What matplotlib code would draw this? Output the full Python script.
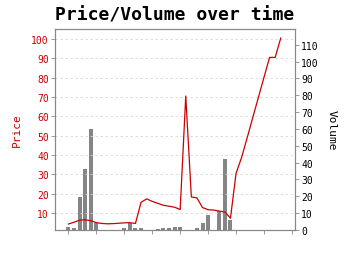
import matplotlib
matplotlib.use("Agg")
import matplotlib.pyplot as plt
import numpy as np

# one entry per trading period (x ticks every 5, no labels)
price = [4.3, 5.2, 6.3, 6.5, 6.0, 5.0, 4.6, 4.4, 4.5, 4.7,
         4.9, 5.0, 4.6, 15.5, 17.3, 16.0, 15.0, 14.0, 13.5, 13.0,
         11.8, 70.5, 18.3, 17.8, 12.8, 11.7, 11.5, 11.0, 10.5, 7.3,
         30.5, 38.8, 49.0, 59.5, 69.8, 80.2, 90.5, 90.5, 100.5]
volume = [2, 1, 19.5, 36, 60, 4, 0, 0, 0, 0,
          1, 4, 1, 1, 0, 0, 0.5, 1, 1, 1.5,
          1.5, 0, 0, 1, 4, 9, 0, 11.5, 42, 6,
          0, 0, 0, 0, 0, 0, 0, 0, 0]
price_ticks = list(range(10, 101, 10))
volume_ticks = list(range(0, 111, 10))

RED = "#cc0000"
plt.rcParams["font.family"] = ["DejaVu Sans Mono"]

fig = plt.figure(figsize=(3.5, 2.55), dpi=100)
ax = fig.add_axes([55 / 350, 1 - 231 / 255, 240 / 350, 201 / 255])
ax2 = ax.twinx()
ax.set_zorder(ax2.get_zorder() + 1)
ax.patch.set_visible(False)

x = np.arange(len(price))
ax2.bar(x, volume, width=0.72, color="#858585", zorder=2)
ax.plot(x, price, color=RED, lw=0.9)

ax.set_xlim(-2.4, 40.55)
ax.set_ylim(1.2, 105.2)
ax2.set_ylim(0, 119.4)
ax.set_xticks(range(0, 41, 5))
ax.set_xticklabels([])
ax.set_yticks(price_ticks)
ax2.set_yticks(volume_ticks)

ax.grid(axis="y", ls=(0, (3, 3)), color="#d8d8d8", lw=0.6)
ax2.set_axisbelow(True)

for a in (ax, ax2):
    for s in a.spines.values():
        s.set_color("#888888")
    a.tick_params(length=3, width=0.6, color="#888888", labelsize=7, pad=1.5)
ax.tick_params(axis="y", labelcolor=RED)
ax2.tick_params(axis="y", labelcolor="black")

ax.set_ylabel("Price", color=RED, fontsize=8, labelpad=7)
ax2.set_ylabel("Volume", color="black", fontsize=8, rotation=270, labelpad=13)
fig.suptitle("Price/Volume over time", fontsize=13, fontweight="bold", y=0.975)

fig.savefig("out.png", dpi=100)
